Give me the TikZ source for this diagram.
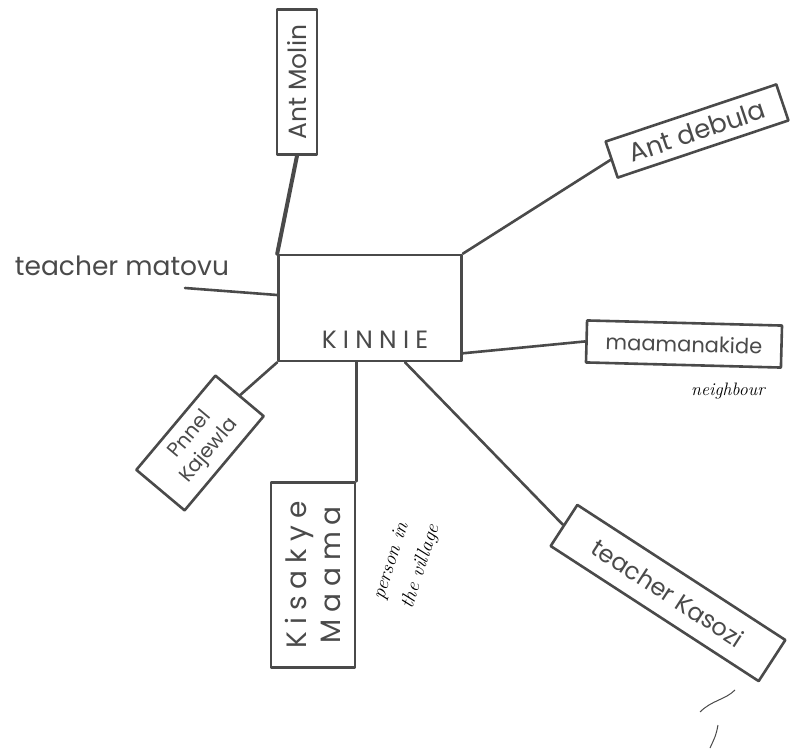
\documentclass[tikz,border=0pt]{standalone}
\usepackage{fontspec}
\newfontfamily\labelfont{Poppins}
\newfontfamily\widelabelfont[LetterSpace=25]{Poppins}
\definecolor{inkc}{HTML}{4A4A4A}
\begin{document}
\begin{tikzpicture}[x=1pt,y=-1pt,
  ink/.style={draw=inkc, line width=2.6pt, line join=round, line cap=round},
  box/.style={ink, inner sep=0pt, text=inkc, align=center},
  lbl/.style={text=inkc, inner sep=0pt, align=center},
  note/.style={text=black, inner sep=0pt, align=left}]
\useasboundingbox (0,0) rectangle (795,749);
\fill[white] (0,0) rectangle (795,749);

% central box
\node[box, minimum width=183pt, minimum height=106pt] (kinnie) at (370,308) {};
\node[lbl, font=\widelabelfont\fontsize{25}{27}\selectfont] (kinnielbl) at (375,340) {KINNIE};

% satellites
\node[box, rotate=90, minimum width=145pt, minimum height=40pt,
      font=\labelfont\fontsize{25}{27}\selectfont] (molin) at (297,82) {Ant Molin};
\node[box, rotate=18.5, minimum width=180pt, minimum height=38pt,
      font=\labelfont\fontsize{26}{28}\selectfont] (debula) at (697,131) {Ant debula};
\node[lbl, font=\labelfont\fontsize{26.5}{28}\selectfont] (matovu) at (122,266) {teacher matovu};
\coordinate (mtend) at (185,288);
\node[box, rotate=-1.5, minimum width=195pt, minimum height=42pt,
      font=\labelfont\fontsize{21}{23}\selectfont] (nakide) at (684,344) {maamanakide};
\node[note, font=\itshape\fontsize{18}{20}\selectfont] (neighbour) at (728,391) {neighbour};
\node[box, rotate=50, minimum width=123pt, minimum height=63pt,
      font=\labelfont\fontsize{20}{25}\selectfont] (kajewla) at (200,443) {Pnnel\\Kajewla};
\node[box, rotate=90, minimum width=185pt, minimum height=84pt,
      font=\widelabelfont\fontsize{28}{34}\selectfont] (kisakye) at (313,575) {Kisakye\\Maama};
\node[note, rotate=72, font=\itshape\fontsize{20}{30}\selectfont] (village) at (407,562) {person in\\the village};
\node[box, rotate=-33, minimum width=248pt, minimum height=49pt,
      font=\labelfont\fontsize{24}{26}\selectfont] (kasozi) at (668,593) {teacher Kasozi};

% connectors
\draw[ink, line width=4pt] (molin.west) -- (kinnie.north west);
\draw[ink] (kinnie.north east) -- (debula.west);
\draw[ink] (mtend) -- ([yshift=13pt]kinnie.west);
\draw[ink] ([yshift=9pt]kinnie.south east) -- (nakide.west);
\draw[ink] (kinnie.south west) -- (kajewla.east);
\draw[ink] (kisakye.south east |- kinnie.south) -- (kisakye.south east);
\draw[ink] ([xshift=35pt]kinnie.south) -- (kasozi.west);

% stray mark
\draw[draw=inkc, line width=1pt] (700,712) .. controls (712,700) and (725,700) .. (735,690);
\draw[draw=inkc, line width=1pt] (718,725) .. controls (716,735) .. (710,748);
\end{tikzpicture}
\end{document}
